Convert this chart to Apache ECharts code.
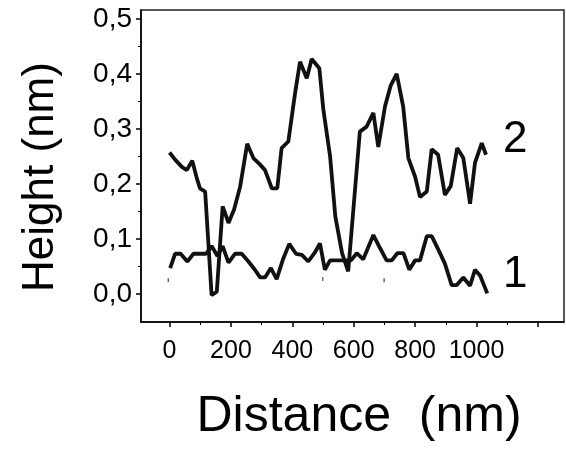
<!DOCTYPE html>
<html>
<head>
<meta charset="utf-8">
<script src="https://cdn.jsdelivr.net/npm/echarts@6/dist/echarts.min.js"></script>
<style>
html,body{margin:0;padding:0;background:#fff;}
#chart{width:566px;height:455px;}
</style>
</head>
<body>
<div id="chart"></div>
<script>
// Profile 2 (upper curve)
const distance2 = [0,18,40,56,74,89,99,116,137,154,173,192,210,230,253,273,295,311,333,351,365,387,409,425,447,463,488,501,523,540,562,582,620,642,664,680,702,720,740,761,778,800,816,838,854,875,897,916,937,957,979,995,1017,1031];
const height2 = [0.257,0.244,0.231,0.225,0.242,0.210,0.192,0.186,-0.002,0.004,0.159,0.129,0.153,0.195,0.273,0.247,0.235,0.225,0.192,0.192,0.265,0.277,0.365,0.422,0.392,0.427,0.410,0.335,0.250,0.141,0.074,0.041,0.295,0.304,0.329,0.267,0.341,0.378,0.400,0.341,0.247,0.213,0.176,0.186,0.263,0.253,0.180,0.196,0.265,0.247,0.164,0.238,0.274,0.253];
// Profile 1 (lower curve)
const distance1 = [2,18,36,58,78,99,119,137,156,173,192,213,235,257,278,295,311,330,349,369,390,412,431,452,472,490,506,523,550,572,591,610,631,664,686,707,724,742,762,781,800,816,838,854,876,897,919,935,957,979,995,1012,1035];
const height1 = [0.047,0.073,0.073,0.059,0.073,0.073,0.073,0.087,0.069,0.087,0.057,0.073,0.073,0.059,0.044,0.030,0.030,0.047,0.027,0.062,0.091,0.073,0.071,0.059,0.074,0.092,0.044,0.061,0.061,0.061,0.061,0.074,0.063,0.107,0.083,0.061,0.061,0.074,0.074,0.044,0.061,0.061,0.105,0.105,0.080,0.055,0.016,0.016,0.030,0.015,0.044,0.033,0.001];
// small stray marks in the original
const markDistance = [-4,499,699];
const markHeight = [0.025,0.027,0.025];

const xTicks = [0,200,400,600,800,1000,1200];
const xLabels = [0,200,400,600,800,1000];
const xMinor = [100,300,500,700,900,1100];
const yTicks = [0,0.1,0.2,0.3,0.4,0.5];
const yMinor = [0.05,0.15,0.25,0.35,0.45];
const curveNames = ['1','2'];

const FONT = 'Liberation Sans, Arial, sans-serif';
const toPairs = (xs, ys) => xs.map((x, i) => [x, ys[i]]);

const chart = echarts.init(document.getElementById('chart'), null, {renderer:'canvas'});
const xMin = -93, xMax = 1285, yMin = -0.051, yMax = 0.516;
chart.setOption({
  animation: false,
  backgroundColor: '#fff',
  grid: {left:141, right:2, top:10, bottom:133, show:true, borderColor:'#222', borderWidth:1.5, backgroundColor:'transparent'},
  xAxis: [{
    type:'value', min:xMin, max:xMax, position:'bottom',
    axisLine:{show:true, onZero:false, lineStyle:{color:'#000', width:1.5}},
    axisTick:{show:true, customValues:xTicks, length:5, lineStyle:{color:'#000', width:1.5}},
    axisLabel:{show:true, customValues:xLabels, margin:17, fontSize:25, color:'#000', fontFamily:FONT,
      formatter: v => String(v)},
    splitLine:{show:false}
  },{
    type:'value', min:xMin, max:xMax, position:'bottom',
    axisLine:{show:false, onZero:false},
    axisTick:{show:true, customValues:xMinor, length:3, lineStyle:{color:'#000', width:1}},
    axisLabel:{show:false}, splitLine:{show:false}
  }],
  yAxis: [{
    type:'value', min:yMin, max:yMax, position:'left',
    axisLine:{show:true, onZero:false, lineStyle:{color:'#000', width:1.5}},
    axisTick:{show:true, customValues:yTicks, length:5, lineStyle:{color:'#000', width:1.5}},
    axisLabel:{show:true, customValues:yTicks, margin:9, fontSize:28, color:'#000', fontFamily:FONT,
      formatter: v => v.toFixed(1).replace('.', ',')},
    splitLine:{show:false}
  },{
    type:'value', min:yMin, max:yMax, position:'left',
    axisLine:{show:false, onZero:false},
    axisTick:{show:true, customValues:yMinor, length:3, lineStyle:{color:'#000', width:1}},
    axisLabel:{show:false}, splitLine:{show:false}
  }],
  series: [
    {name:curveNames[0], type:'line', data:toPairs(distance1, height1), showSymbol:false, symbol:'none',
     lineStyle:{color:'#111', width:3.8}, z:3},
    {name:curveNames[1], type:'line', data:toPairs(distance2, height2), showSymbol:false, symbol:'none',
     lineStyle:{color:'#111', width:3.8}, z:3},
    {name:'marks', type:'scatter', data:toPairs(markDistance, markHeight), symbol:'rect', symbolSize:[1.5,4],
     itemStyle:{color:'#444'}, z:2}
  ],
  graphic: [
    {type:'text', x:41, y:177, rotation:Math.PI/2, style:{text:'Height (nm)', font:'44px ' + FONT, fill:'#000', textAlign:'center', textVerticalAlign:'middle'}},
    {type:'text', x:359, y:417, style:{text:'Distance  (nm)', font:'50px ' + FONT, fill:'#000', textAlign:'center', textVerticalAlign:'middle'}},
    {type:'text', x:503, y:140, style:{text:curveNames[1], font:'44px ' + FONT, fill:'#000', textAlign:'left', textVerticalAlign:'middle'}},
    {type:'text', x:503, y:275, style:{text:curveNames[0], font:'44px ' + FONT, fill:'#000', textAlign:'left', textVerticalAlign:'middle'}}
  ]
});
</script>
</body>
</html>
